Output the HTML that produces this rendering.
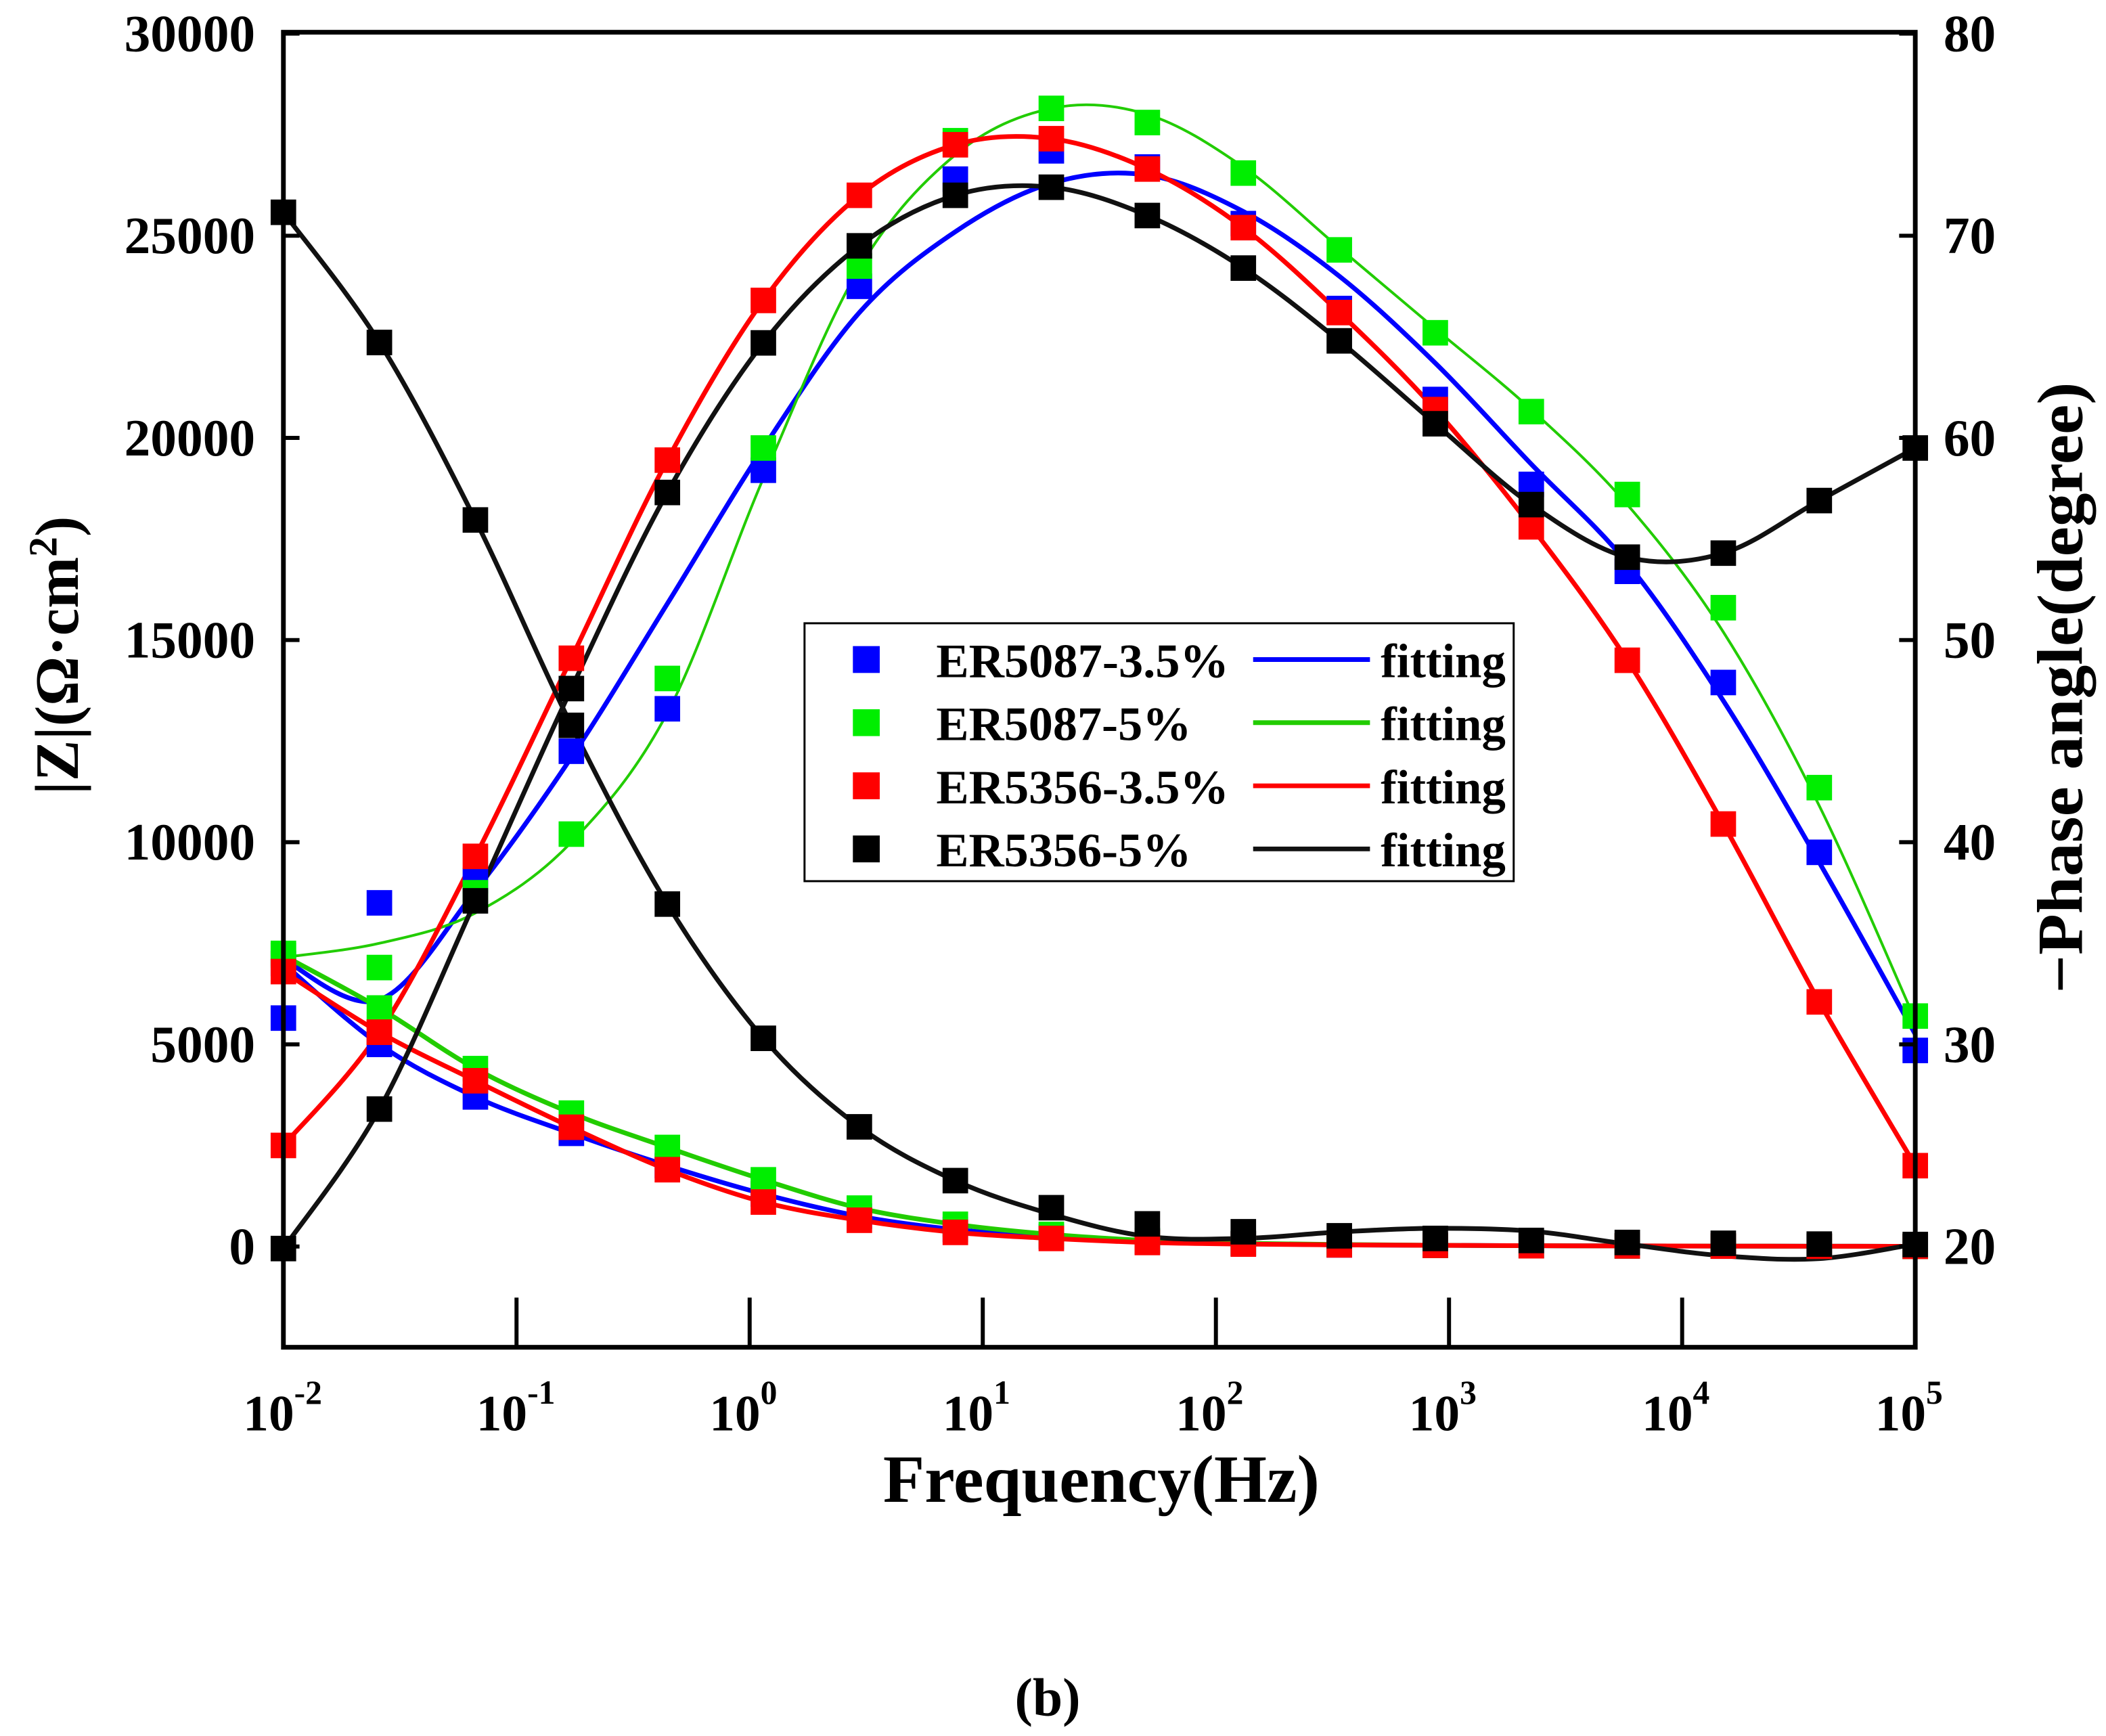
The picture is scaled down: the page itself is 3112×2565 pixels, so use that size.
<!DOCTYPE html>
<html><head><meta charset="utf-8"><style>html,body{margin:0;padding:0;background:#fff}svg{display:block}text{font-family:"Liberation Serif",serif;font-weight:bold}</style></head>
<body>
<svg id="chart" xmlns="http://www.w3.org/2000/svg" width="3112" height="2565" viewBox="0 0 1568 1292.4">
<rect width="1568" height="1292.4" fill="#fff"/>
<g id="marks"></g>
<g id="axes"></g>
<g id="legend">
<rect x="599" y="464" width="528" height="192" fill="#fff" stroke="#000" stroke-width="1.5"/>
</g>
<text x="780" y="1277" font-size="40" text-anchor="middle">(b)</text>
<text x="820" y="1118" font-size="50" text-anchor="middle" textLength="325" lengthAdjust="spacingAndGlyphs">Frequency(Hz)</text>
<text transform="translate(58,488) rotate(-90)" font-size="46" text-anchor="middle">|Z|(Ω·cm<tspan dy="-16" font-size="30">2</tspan><tspan dy="16">)</tspan></text>
<text transform="translate(1550,512) rotate(-90)" font-size="48" text-anchor="middle" textLength="455" lengthAdjust="spacingAndGlyphs">−Phase angle(degree)</text>
</svg>
<script>
const exponents=[-2,-1,0,1,2,3,4,5];
const leftTicks=[0,5000,10000,15000,20000,25000,30000];
const rightTicks=[20,30,40,50,60,70,80];
const freqIndex=[0,1,2,3,4,5,6,7,8,9,10,11,12,13,14,15,16,17];
const seriesNames=["ER5087-3.5%","ER5087-5%","ER5356-3.5%","ER5356-5%"];
const phase5087_35=[31.3,37.0,38.1,44.5,46.6,58.4,67.5,72.8,74.2,73.4,70.6,66.4,61.9,57.7,53.4,47.9,39.5,29.7];
const phase5087_5=[34.5,33.8,37.5,40.4,48.1,59.5,68.5,74.7,76.3,75.6,73.1,69.3,65.2,61.3,57.2,51.6,42.7,31.4];
const phase5356_35=[25.0,30.6,39.3,49.1,58.9,66.8,72.0,74.5,74.8,73.3,70.4,66.2,61.4,55.6,49.0,40.9,32.1,24.0];
const phase5356_5=[19.9,26.8,37.1,47.6,57.3,64.7,69.5,72.0,72.4,71.0,68.4,64.8,60.7,56.7,54.1,54.3,56.9,59.5];
const fitPhase5087_35=[34.2,32.2,37.6,44.2,51.8,59.5,66.2,70.2,72.6,73.0,71.2,68.0,63.7,58.7,53.8,47.0,39.0,30.5];
const fitPhase5087_5=[34.3,35.0,36.5,40.0,46.4,58.0,68.4,74.0,76.3,76.0,73.4,69.4,65.4,61.4,56.7,50.4,41.8,31.2];
const z5087_35=[7000,5000,3700,2800,2000,1300,750,420,250,120,70,40,30,20,15,10,8,5];
const z5087_5=[7200,5900,4400,3300,2450,1650,950,550,300,150,80,50,30,20,15,10,8,5];
const z5356_35=[6800,5300,4100,2950,1900,1100,650,350,200,100,60,40,30,20,15,10,8,5];
const z5356_5=[25580,22360,17970,12890,8470,5150,2960,1630,960,560,365,265,200,150,100,80,60,50];
const fitZ5356_5=[25580,22360,17970,12890,8470,5150,2960,1630,800,250,200,360,450,380,60,-230,-300,60];
const colors=["#0000ff","#00ee00","#ff0000","#000000"];
const lineColors=["#0000ff","#22cc00","#ff0000","#111111"];
const X0=211,X1=1426,YT=25,YB=928,AXB=1003;
const fx=i=>X0+(X1-X0)*i/17;
const xDec=e=>X0+(X1-X0)*(e+2)/7;
const yL=v=>YB-(YB-YT)*v/30000;
const yR=v=>YB-(YB-YT)*(v-20)/60;
const NS="http://www.w3.org/2000/svg";
const marks=document.getElementById('marks'),axes=document.getElementById('axes'),legend=document.getElementById('legend');
function mk(t,a,p){const e=document.createElementNS(NS,t);for(const k in a)e.setAttribute(k,a[k]);(p||marks).appendChild(e);return e;}
function spline(pts){let d="M"+pts[0][0]+","+pts[0][1];for(let i=0;i<pts.length-1;i++){const p0=pts[Math.max(0,i-1)],p1=pts[i],p2=pts[i+1],p3=pts[Math.min(pts.length-1,i+2)];const c1=[p1[0]+(p2[0]-p0[0])/6,p1[1]+(p2[1]-p0[1])/6],c2=[p2[0]-(p3[0]-p1[0])/6,p2[1]-(p3[1]-p1[1])/6];d+=` C${c1[0]},${c1[1]} ${c2[0]},${c2[1]} ${p2[0]},${p2[1]}`;}return d;}
const phases=[phase5087_35,phase5087_5,phase5356_35,phase5356_5];
const fitPhases=[fitPhase5087_35,fitPhase5087_5,phase5356_35,phase5356_5];
const zs=[z5087_35,z5087_5,z5356_35,z5356_5];
const fitZs=[z5087_35,z5087_5,z5356_35,fitZ5356_5];
for(let s=0;s<4;s++){
  const pp=freqIndex.map(i=>[fx(i),yR(fitPhases[s][i])]);
  const zp=freqIndex.map(i=>[fx(i),yL(fitZs[s][i])]);
  let l=mk('path',{d:spline(pp),fill:'none',stroke:lineColors[s],'stroke-width':s==1?2:3.5});
  
  
  l=mk('path',{d:spline(zp),fill:'none',stroke:lineColors[s],'stroke-width':3.5});
  
  
}
for(let s=0;s<4;s++){
  freqIndex.forEach(i=>{
    let r=mk('rect',{x:fx(i)-9.5,y:yR(phases[s][i])-9.5,width:19,height:19,fill:colors[s]});
    
    
    r=mk('rect',{x:fx(i)-9.5,y:yL(zs[s][i])-9.5,width:19,height:19,fill:colors[s]});
    
    
  });
}
mk('rect',{x:X0,y:YT-1,width:X1-X0,height:AXB-YT+1,fill:'none',stroke:'#000','stroke-width':3.5},axes);
leftTicks.forEach(v=>{const y=yL(v);mk('line',{x1:X0,x2:X0+12,y1:y,y2:y,stroke:'#000','stroke-width':3},axes);
 const t=mk('text',{x:X0-21,y:y+13,'font-size':39,'text-anchor':'end'},axes);t.textContent=v;
 
 });
rightTicks.forEach(v=>{const y=yR(v);mk('line',{x1:X1,x2:X1-12,y1:y,y2:y,stroke:'#000','stroke-width':3},axes);
 const t=mk('text',{x:X1+21,y:y+13,'font-size':39,'text-anchor':'start'},axes);t.textContent=v;
 
 });
exponents.forEach(e=>{const x=xDec(e);mk('line',{x1:x,x2:x,y1:AXB,y2:AXB-37,stroke:'#000','stroke-width':3},axes);
 const t=mk('text',{x:x+8,y:1065,'font-size':38,'text-anchor':'end'},axes);t.textContent='10';
 
 
 const s=mk('text',{x:x+8,y:1045,'font-size':25,'text-anchor':'start'},axes);s.textContent=String(e);
 
 });
const labelWidths=[218,190,218,190];
seriesNames.forEach((n,k)=>{const y=491+k*47;
 let r=mk('rect',{x:635,y:y-10,width:20,height:20,fill:colors[k]},legend);
 
 
 let t=mk('text',{x:697,y:y+13,'font-size':36,textLength:labelWidths[k],lengthAdjust:'spacingAndGlyphs'},legend);t.textContent=n;
 
 
 let l=mk('line',{x1:933,x2:1020,y1:y,y2:y,stroke:lineColors[k],'stroke-width':3.5},legend);
 
 
 t=mk('text',{x:1028,y:y+13,'font-size':36,textLength:93,lengthAdjust:'spacingAndGlyphs'},legend);t.textContent='fitting';
 
 });
</script>
</body></html>
